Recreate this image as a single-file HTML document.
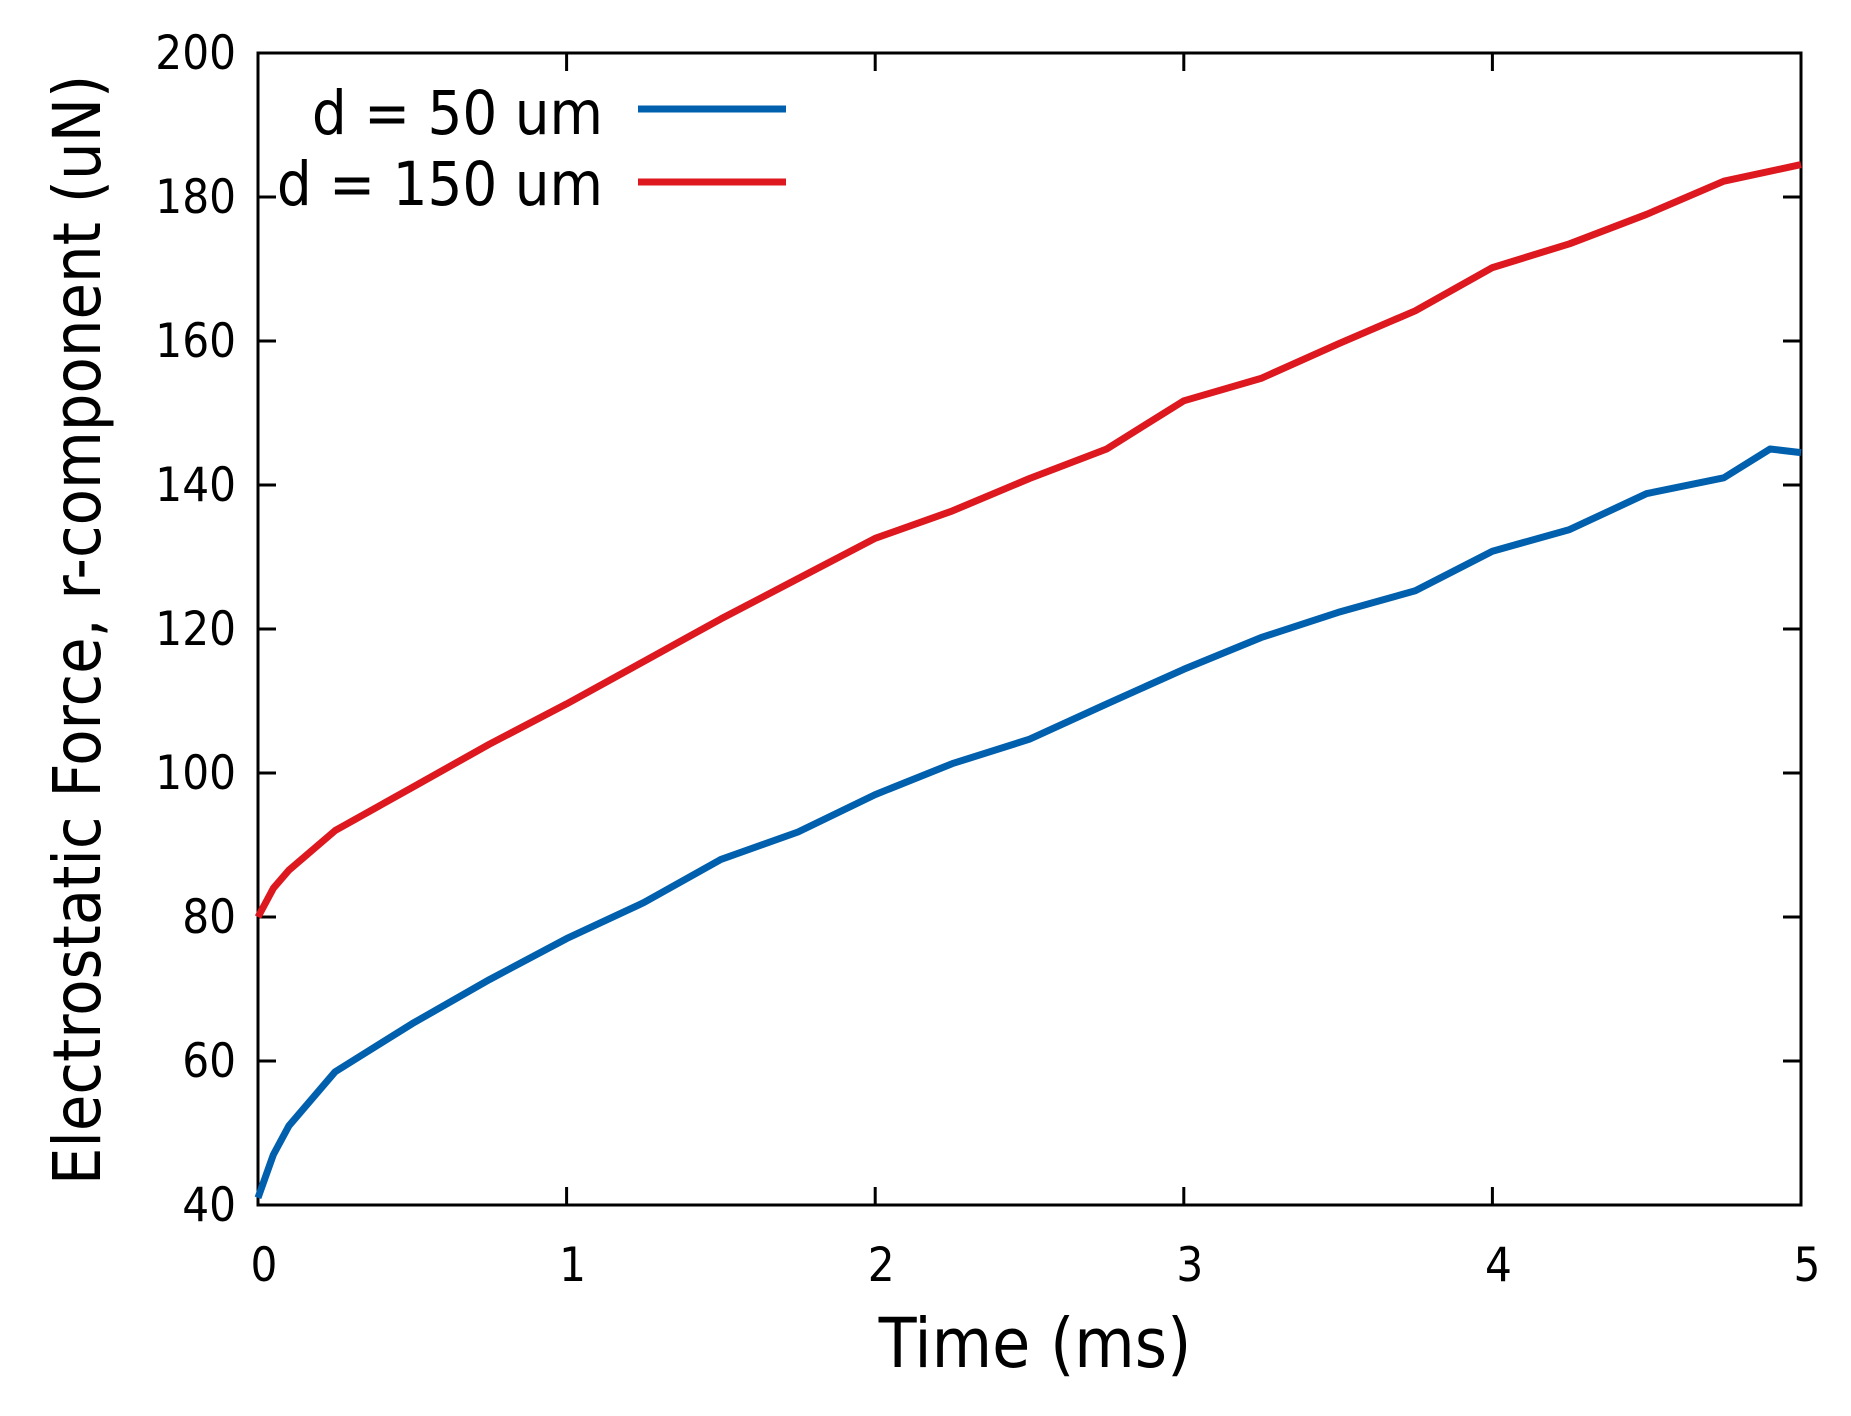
<!DOCTYPE html>
<html><head><meta charset="utf-8"><style>
html,body{margin:0;padding:0;background:#fff;}
svg text{font-family:"DejaVu Sans Condensed","Liberation Sans",sans-serif;fill:#000;}
</style></head><body>
<svg id="chart" width="1851" height="1411" viewBox="0 0 1851 1411" xmlns="http://www.w3.org/2000/svg">
<g id="axes"></g>
<g id="series"></g>
<g id="legend">
<text x="603" y="134" font-size="61" text-anchor="end">d = 50 um</text>
<line x1="638" y1="109" x2="786" y2="109" stroke="#0060ad" stroke-width="7"/>
<text x="603" y="205" font-size="61" text-anchor="end">d = 150 um</text>
<line x1="638" y1="182" x2="786" y2="182" stroke="#dd181f" stroke-width="7"/>
</g>
<text x="1035" y="1367" font-size="69" text-anchor="middle" font-family="DejaVu Sans, sans-serif">Time (ms)</text>
<text transform="translate(100,630) rotate(-90)" font-size="66" text-anchor="middle" font-family="DejaVu Sans, sans-serif">Electrostatic Force, r-component (uN)</text>
</svg>
<script>
const xTicks=[0,1,2,3,4,5];
const yTicks=[40,60,80,100,120,140,160,180,200];
const tBlue=[0,0.05,0.1,0.25,0.5,0.75,1.0,1.25,1.5,1.75,2.0,2.25,2.5,2.75,3.0,3.25,3.5,3.75,4.0,4.25,4.5,4.75,4.9,5.0];
const fBlue=[41,47,51,58.5,65.2,71.3,77,82,88,91.8,97,101.3,104.7,109.6,114.4,118.8,122.3,125.3,130.8,133.8,138.8,141,145,144.5];
const tRed=[0,0.05,0.1,0.25,0.5,0.75,1.0,1.25,1.5,1.75,2.0,2.25,2.5,2.75,3.0,3.25,3.5,3.75,4.0,4.25,4.5,4.75,5.0];
const fRed=[80,84,86.5,92,98,104,109.6,115.5,121.4,127,132.6,136.4,140.9,145,151.7,154.8,159.6,164.2,170.2,173.5,177.6,182.2,184.5];
const L=258,R=1801,T=53,B=1205;
const x=v=>L+(v-0)/(5-0)*(R-L);
const y=v=>B-(v-40)/(200-40)*(B-T);
const NS='http://www.w3.org/2000/svg';
const axes=document.getElementById('axes');
function mk(tag,attrs,parent){const e=document.createElementNS(NS,tag);for(const k in attrs)e.setAttribute(k,attrs[k]);parent.appendChild(e);return e;}
const frame=mk('rect',{x:L,y:T,width:R-L,height:B-T,fill:'none',stroke:'#000','stroke-width':3},axes);


xTicks.forEach(v=>{
  const t1=mk('line',{x1:x(v),x2:x(v),y1:B,y2:B-18,stroke:'#000','stroke-width':3},axes);
  
  
  const t2=mk('line',{x1:x(v),x2:x(v),y1:T,y2:T+18,stroke:'#000','stroke-width':3},axes);
  
  
  const lb=mk('text',{x:x(v)+6,y:1281,'font-size':47,'text-anchor':'middle'},axes);
  lb.textContent=v;
  
  
});
yTicks.forEach(v=>{
  const t1=mk('line',{x1:L,x2:L+18,y1:y(v),y2:y(v),stroke:'#000','stroke-width':3},axes);
  
  
  const t2=mk('line',{x1:R,x2:R-18,y1:y(v),y2:y(v),stroke:'#000','stroke-width':3},axes);
  
  
  const lb=mk('text',{x:236,y:y(v)+16,'font-size':47,'text-anchor':'end'},axes);
  lb.textContent=v;
  
  
});
const ser=document.getElementById('series');
function line(ts,fs,color,name){
  const d=ts.map((t,i)=>(i?'L':'M')+x(t).toFixed(1)+','+y(fs[i]).toFixed(1)).join(' ');
  const p=mk('path',{d:d,fill:'none',stroke:color,'stroke-width':7,'stroke-linejoin':'round'},ser);
  
  
}
line(tBlue,fBlue,'#0060ad','line-d-50um');
line(tRed,fRed,'#dd181f','line-d-150um');
</script>
</body></html>
